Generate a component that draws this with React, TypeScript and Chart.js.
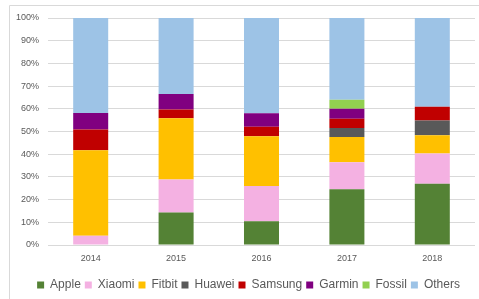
import React, { useEffect, useRef } from "react";
import { Chart, registerables } from "chart.js";

Chart.register(...registerables);

const years = ["2014", "2015", "2016", "2017", "2018"];
const apple = [0, 14.3, 10.5, 24.6, 27.0];
const xiaomi = [4.1, 14.6, 15.5, 11.8, 13.3];
const fitbit = [37.6, 26.9, 21.9, 11.2, 8.1];
const huawei = [0, 0, 0, 3.9, 6.5];
const samsung = [9.2, 3.9, 4.2, 4.1, 6.0];
const garmin = [7.2, 6.8, 5.9, 4.4, 0];
const fossil = [0, 0, 0, 4.0, 0];
const others = [41.9, 33.5, 42.0, 36.0, 39.1];

const seriesNames = ["Apple", "Xiaomi", "Fitbit", "Huawei", "Samsung", "Garmin", "Fossil", "Others"];
const seriesValues = [apple, xiaomi, fitbit, huawei, samsung, garmin, fossil, others];
const seriesColors = ["#548235", "#F4B1E2", "#FFC000", "#595959", "#C00000", "#800080", "#92D050", "#9DC3E6"];

const FONT = "'Liberation Sans', Arial, sans-serif";

const borderPlugin = {
  id: "outerBorder",
  afterLayout(chart: any) {
    const lg = chart.legend;
    if (lg) {
      lg.left += 11;
      lg.right += 11;
    }
  },
  beforeDraw(chart: any) {
    const ctx = chart.ctx;
    ctx.save();
    ctx.strokeStyle = "#D9D9D9";
    ctx.lineWidth = 1;
    ctx.beginPath();
    ctx.moveTo(9.5, 299);
    ctx.lineTo(9.5, 5.5);
    ctx.lineTo(479, 5.5);
    ctx.stroke();
    ctx.restore();
  },
};

export default function App() {
  const ref = useRef<HTMLCanvasElement | null>(null);
  useEffect(() => {
    if (!ref.current) return;
    const chart = new Chart(ref.current, {
      type: "bar",
      data: {
        labels: years,
        datasets: seriesNames.map((name, i) => ({
          label: name,
          data: seriesValues[i],
          backgroundColor: seriesColors[i],
          borderWidth: 0,
          barPercentage: 0.41,
          categoryPercentage: 1,
        })),
      },
      options: {
        animation: false,
        responsive: false,
        maintainAspectRatio: false,
        layout: { padding: { top: 18, right: 4, left: 0, bottom: -2 } },
        plugins: {
          legend: {
            position: "bottom",
            labels: {
              boxWidth: 7,
              boxHeight: 7,
              padding: 4,
              color: "#595959",
              font: { size: 12, family: FONT },
            },
          },
          tooltip: { enabled: false },
        },
        scales: {
          x: {
            stacked: true,
            grid: { display: false },
            border: { display: false },
            afterFit(scale: any) {
              scale.height = 30;
            },
            ticks: {
              color: "#595959",
              padding: 0,
              font: { size: 9, family: FONT },
            },
          },
          y: {
            stacked: true,
            min: 0,
            max: 100,
            afterFit(scale: any) {
              scale.width = 48;
            },
            grid: { color: "#D9D9D9", drawTicks: false },
            border: { display: false },
            ticks: {
              stepSize: 10,
              padding: 9,
              color: "#595959",
              font: { size: 9, family: FONT },
              callback: (v: any) => v + "%",
            },
          },
        },
      },
      plugins: [borderPlugin],
    });
    return () => chart.destroy();
  }, []);
  return (
    <div style={{ position: "fixed", left: 0, top: 0, width: 479, height: 299, background: "#fff" }}>
      <canvas ref={ref} width={479} height={299} style={{ display: "block" }} />
    </div>
  );
}
